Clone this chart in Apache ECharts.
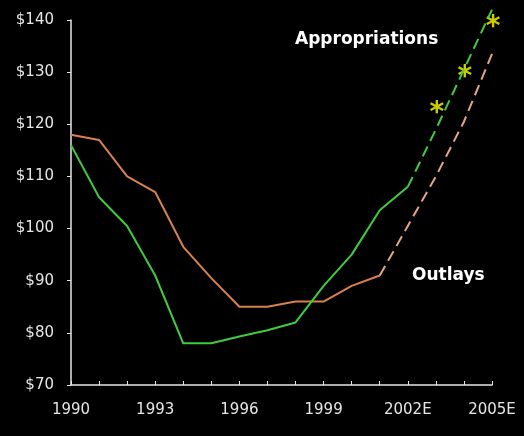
<!DOCTYPE html>
<html>
<head>
<meta charset="utf-8">
<script src="https://cdn.jsdelivr.net/npm/echarts@6/dist/echarts.min.js"></script>
<style>
  html, body { margin: 0; padding: 0; background: #000; }
  #chart { width: 524px; height: 436px; }
</style>
</head>
<body>
<div id="chart"></div>
<script>
var years = ["1990", "1991", "1992", "1993", "1994", "1995", "1996", "1997",
  "1998", "1999", "2000", "2001", "2002E", "2003E", "2004E", "2005E"];
var appropriations = [116, 106, 100.5, 91, 78, 78, 79.3, 80.5, 82, 89, 95, 103.5, 108, 119, 130.5, 142];
var outlays = [118, 117, 110, 107, 96.5, 90.5, 85, 85, 86, 86, 89, 91, 100.5, 110, 120.5, 133.5];
var estimateMarks = [["2003E", 123.5], ["2004E", 130.5], ["2005E", 140]];

// solid part = actuals, dashed part = estimates
function part(arr, from, to) {
  return arr.map(function (v, i) { return (i >= from && i <= to) ? v : null; });
}

(function () {
  var myChart = echarts.init(document.getElementById("chart"));
  var axisFont = { color: "#e6e6e6", fontSize: 15, fontFamily: "DejaVu Sans" };
  var option = {
    backgroundColor: "#000",
    animation: false,
    grid: { left: 71, top: 20, right: 32, bottom: 51 },
    xAxis: {
      type: "category",
      data: years,
      boundaryGap: false,
      axisLine: { lineStyle: { color: "#e6e6e6", width: 1.5 } },
      axisTick: { inside: true, length: 4, interval: 0, lineStyle: { color: "#e6e6e6" } },
      axisLabel: Object.assign({ interval: 2, margin: 18 }, axisFont),
      splitLine: { show: false }
    },
    yAxis: {
      type: "value",
      min: 70,
      max: 140,
      interval: 10,
      axisLine: { show: true, lineStyle: { color: "#e6e6e6", width: 1.5 } },
      axisTick: { show: true, length: 4, lineStyle: { color: "#e6e6e6" } },
      axisLabel: Object.assign({
        margin: 17,
        formatter: function (v) { return "$" + v; }
      }, axisFont),
      splitLine: { show: false }
    },
    series: [
      {
        type: "line", data: part(outlays, 0, 11), symbol: "none", clip: false,
        lineStyle: { color: "#d9804f", width: 2 }
      },
      {
        type: "line", data: part(outlays, 11, 15), symbol: "none", clip: false,
        lineStyle: { color: "#e3a582", width: 2, type: [11, 6] }
      },
      {
        type: "line", data: part(appropriations, 0, 12), symbol: "none", clip: false,
        lineStyle: { color: "#3fcc3f", width: 2 }
      },
      {
        type: "line", data: part(appropriations, 12, 15), symbol: "none", clip: false,
        lineStyle: { color: "#3fcc3f", width: 2, type: [11, 6] }
      },
      {
        type: "scatter", data: estimateMarks, symbolSize: 0, clip: false,
        label: {
          show: true, position: "inside", formatter: "*",
          color: "#ffff00", fontSize: 28, fontWeight: "bold", fontFamily: "DejaVu Sans",
          offset: [1, 8]
        }
      }
    ],
    graphic: [
      {
        type: "text", left: 295, top: 31,
        style: { text: "Appropriations", fill: "#fff", font: "bold 17px 'DejaVu Sans'" }
      },
      {
        type: "text", left: 412, top: 267,
        style: { text: "Outlays", fill: "#fff", font: "bold 17px 'DejaVu Sans'" }
      }
    ]
  };
  myChart.setOption(option);
})();
</script>
</body>
</html>
